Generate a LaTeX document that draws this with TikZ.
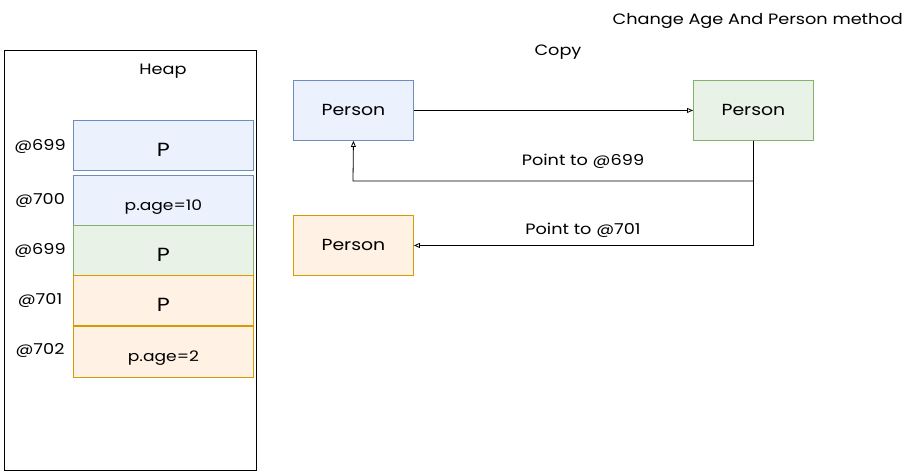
\documentclass[tikz,border=0pt]{standalone}
\usepackage{fontspec}
\setmainfont{Poppins}[FakeStretch=1.18]
\usetikzlibrary{arrows.meta,patterns}
\definecolor{bstroke}{HTML}{6C8EBF}\definecolor{bfill}{HTML}{DAE8FC}
\definecolor{gstroke}{HTML}{82B366}\definecolor{gfill}{HTML}{D5E8D4}
\definecolor{ostroke}{HTML}{D79B00}\definecolor{ofill}{HTML}{FFE6CC}
\begin{document}
\begin{tikzpicture}[x=1pt,y=-1pt,
  txt/.style={font=\fontsize{15}{17}\selectfont, inner sep=0pt},
  cell/.style={draw=#1stroke, fill=#1fill!55, line width=0.9pt, minimum width=180pt, minimum height=50pt, inner sep=0pt, font=\fontsize{14.5}{17}\selectfont, text height=20pt, text depth=0pt, anchor=north west},
  big/.style={font=\fontsize{19}{21}\selectfont, text height=22pt},
  pbox/.style={draw=#1stroke, fill=#1fill!55, line width=0.9pt, minimum width=120pt, minimum height=60pt, inner sep=0pt, font=\fontsize{16}{18}\selectfont, anchor=north west},
  conn/.style={draw=black, line width=0.8pt, -{Triangle[open,length=6pt,width=5pt]}}]
\useasboundingbox (0,0) rectangle (914,471);
% heap
\node[draw, line width=0.9pt, minimum width=252pt, minimum height=420pt, inner sep=0pt, anchor=north west] (heap) at (4,50) {};
\node[txt] (heapt) at (163,71) {Heap};
\node[cell=b, big] (c1) at (73,120) {P};
\node[cell=b] (c2) at (73,175) {p.age=10};
\node[cell=g, big] (c3) at (73,225) {P};
\node[cell=o, big] (c4) at (73,275) {P};
\node[cell=o, minimum height=51pt] (c5) at (73,326) {p.age=2};
\node[txt] (l1) at (40,146) {@699};
\node[txt] (l2) at (40,200) {@700};
\node[txt] (l3) at (40,250) {@699};
\node[txt] (l4) at (40,300) {@701};
\node[txt] (l5) at (40,350) {@702};
% persons
\node[pbox=b] (pb) at (293,80) {Person};
\node[pbox=g] (pg) at (693,80) {Person};
\node[pbox=o] (po) at (293,215) {Person};
\node[txt] (copy) at (558,52) {Copy};
\node[txt, anchor=east] (title) at (903,21) {Change Age And Person method};
\draw[conn] (pb.east) -- (pg.west);
\draw[conn] (pg.south) |- (353,181) -- (pb.south);
\draw[conn] (pg.south) |- (po.east);
\node[txt] (lab1) at (583,161) {Point to @699};
\node[txt] (lab2) at (583,230) {Point to @701};
\end{tikzpicture}
\end{document}
